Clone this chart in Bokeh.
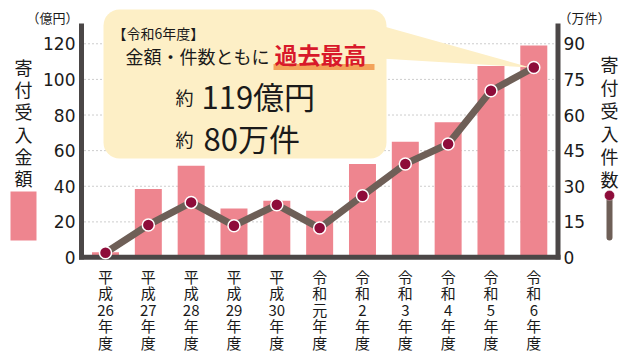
from bokeh.plotting import figure
from bokeh.models import (Range1d, Label, BoxAnnotation, PolyAnnotation,
                          ColumnDataSource)
from bokeh.embed import file_html
from bokeh.resources import INLINE

# ---- data ----
years = ["平成26年度", "平成27年度", "平成28年度", "平成29年度", "平成30年度",
         "令和元年度", "令和2年度", "令和3年度", "令和4年度", "令和5年度", "令和6年度"]
amount = [3, 38.5, 51.5, 27.5, 31.8, 26.3, 52.5, 65, 76, 107.5, 119]   # 億円
count = [2, 13.7, 23.2, 13.4, 22.2, 12.4, 26, 39.4, 47.8, 70.2, 80]     # 万件
left_ticks = [0, 20, 40, 60, 80, 100, 120]
right_ticks = [0, 15, 30, 45, 60, 75, 90]

FONT = "Noto Sans CJK JP"
NUMFONT = "DejaVu Sans"
BAR = "#ee858f"
LINE = "#6e5f57"
MARK = "#8e0c3a"
AXIS = "#4b4747"
CREAM = "#fdefc6"
TXT = "#1a1a1a"

W, H = 632, 356
# pixel layout of the plotting area
CX0, KX = 105.0, 42.83          # px of first category, px per category
ZY, KY = 257.0, 1.781           # px of zero, px per 億円
RATIO = 90 / 120                # right-axis units per left-axis unit

def dx(px):
    return (px - CX0) / KX

def dy(py):
    return (ZY - py) / KY

p = figure(width=W, height=H, output_backend="svg", toolbar_location=None,
           x_range=Range1d(dx(0), dx(W)), y_range=Range1d(dy(H), dy(0)),
           min_border=0, x_axis_type=None, y_axis_type=None)
p.outline_line_color = None
p.grid.visible = False
p.background_fill_color = "white"
p.border_fill_color = "white"
p.extra_y_ranges = {"cnt": Range1d(dy(H) * RATIO, dy(0) * RATIO)}

idx = list(range(len(years)))
src = ColumnDataSource(dict(x=idx, amount=amount, count=count))

# gridlines
gsrc = ColumnDataSource(dict(y=left_ticks[1:]))
gl = p.segment(x0=dx(84), x1=dx(555), y0="y", y1="y", source=gsrc,
               line_color="#9a9a9a", line_width=1, line_dash="1 3")
gl.level = "underlay"

# bars
p.vbar(x="x", top="amount", width=0.63, bottom=0, source=src, fill_color=BAR,
       line_color=None)

# callout box
box = BoxAnnotation(left=dx(103), right=dx(386), top=dy(9), bottom=dy(158),
                    fill_color=CREAM, fill_alpha=1, line_color=None,
                    border_radius=16, level="guide")
p.add_layout(box)
tri = PolyAnnotation(xs=[dx(380), dx(380), 10 - 0.08],
                     ys=[dy(25), dy(58), count[-1] / RATIO],
                     fill_color=CREAM, fill_alpha=1, line_color=None, level="guide")
p.add_layout(tri)

# axes lines
axl = p.segment(x0=[dx(81), dx(557.5), dx(78.5)], x1=[dx(81), dx(557.5), dx(560)],
                y0=[dy(23), dy(23), dy(256.7)], y1=[dy(259), dy(259), dy(256.7)],
                line_color=AXIS, line_width=5)

# line + markers
ln = p.line(x="x", y="count", y_range_name="cnt", source=src, line_color=LINE,
            line_width=7)
ln.level = "annotation"
mk = p.scatter(x="x", y="count", y_range_name="cnt", source=src, size=12,
               fill_color=MARK, line_color="white", line_width=1.5)
mk.level = "annotation"

# tick labels
lsrc = ColumnDataSource(dict(y=left_ticks, t=[str(v) for v in left_ticks]))
p.text(x=dx(75), y="y", text="t", source=lsrc, text_font={"value": NUMFONT},
       text_font_size="17px", text_align="right", text_baseline="middle",
       text_color=TXT)
rsrc = ColumnDataSource(dict(y=right_ticks, t=[str(v) for v in right_ticks]))
p.text(x=dx(563), y="y", text="t", source=rsrc, y_range_name="cnt",
       text_font={"value": NUMFONT}, text_font_size="17px", text_align="left",
       text_baseline="middle", text_color=TXT)
xsrc = ColumnDataSource(dict(
    x=idx,
    t=["\n".join([y[0], y[1], y[2:-2], y[-2], y[-1]]) for y in years]))
p.text(x="x", y=dy(265), text="t", source=xsrc, text_font={"value": FONT},
       text_font_size="15px", text_align="center", text_baseline="top",
       text_line_height=0.79, text_color=TXT)

def lab(text, px, py, size, color=TXT, align="left", bold=False, lh=1.0,
        font=FONT):
    l = Label(x=dx(px), y=dy(py), text=text, text_font=font,
              text_font_size=f"{size}px", text_color=color, text_align=align,
              text_baseline="middle", text_line_height=lh,
              text_font_style="bold" if bold else "normal", level="overlay")
    p.add_layout(l)

# box texts
lab("【令和6年度】", 112, 32, 14)
lab("金額・件数ともに", 125, 55, 18)
underline = BoxAnnotation(left=dx(273), right=dx(374), top=dy(63.5), bottom=dy(69.5),
                          fill_color="#f3a35a", fill_alpha=1, line_color=None,
                          level="overlay")
p.add_layout(underline)
lab("過去最高", 274, 53, 23, color="#d8192a", bold=True)
lab("約", 175, 96, 18)
lab("119億円", 201, 95, 31)
lab("約", 175, 138, 18)
lab("80万件", 203, 137, 31)

# unit labels
lab("（億円）", 52, 17, 13, align="center")
lab("（万件）", 584, 17, 13, align="center")

# side legends
lab("寄\n付\n受\n入\n金\n額", 23, 122, 18, align="center", lh=0.855)
lab("寄\n付\n受\n入\n件\n数", 609, 121, 18, align="center", lh=0.88)
leg_bar = BoxAnnotation(left=dx(10), right=dx(36), top=dy(191), bottom=dy(240),
                        fill_color=BAR, fill_alpha=1, line_color=None)
p.add_layout(leg_bar)
leg_line = BoxAnnotation(left=dx(606), right=dx(612), top=dy(196), bottom=dy(240),
                         fill_color=LINE, fill_alpha=1, line_color=None, border_radius=3)
p.add_layout(leg_line)
leg_dot = BoxAnnotation(left=dx(604), right=dx(614), top=dy(190), bottom=dy(200),
                        fill_color=MARK, fill_alpha=1, line_color="white",
                        line_width=1, border_radius=5, level="overlay")
p.add_layout(leg_dot)

open("out.html", "w").write(file_html(p, INLINE))
